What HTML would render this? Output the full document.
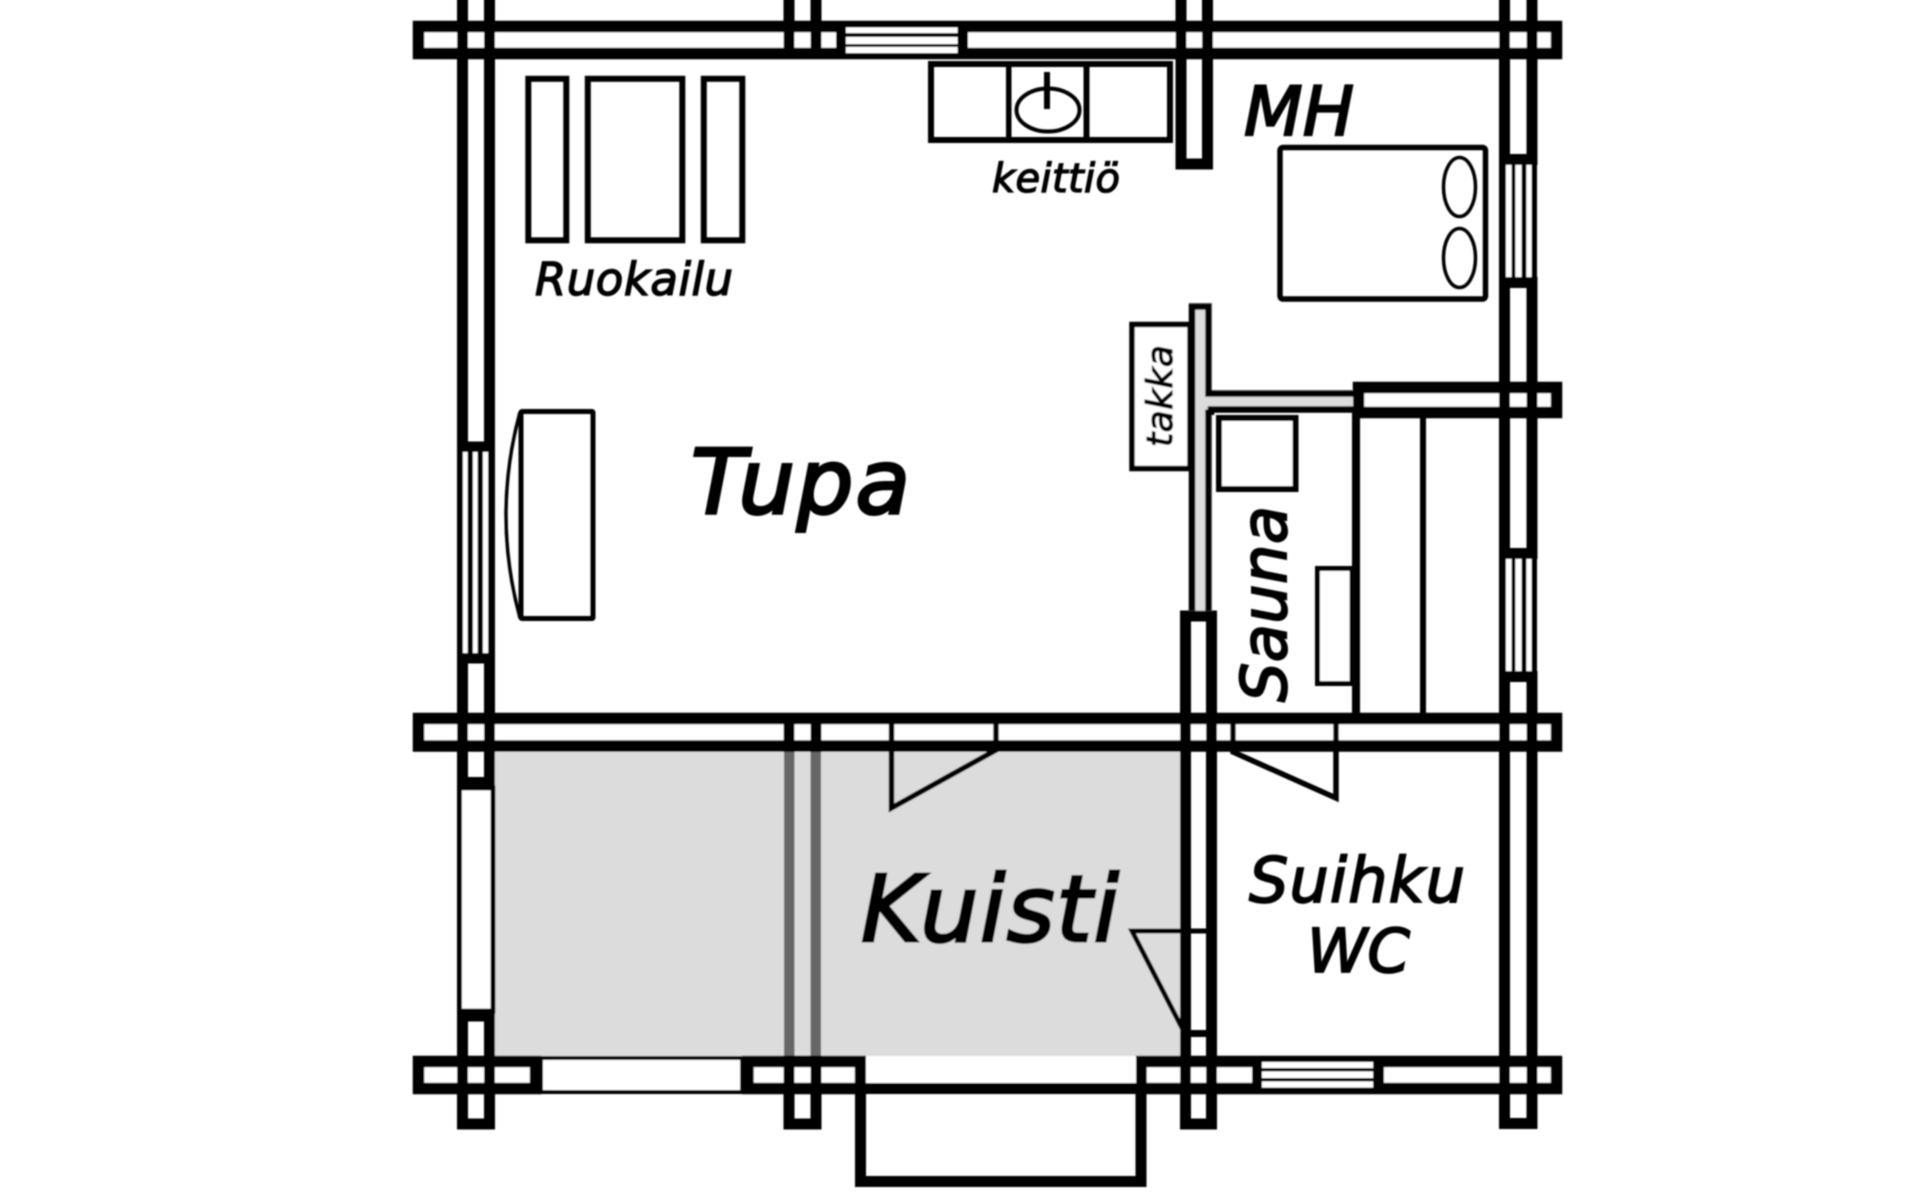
<!DOCTYPE html>
<html lang="fi">
<head>
<meta charset="utf-8">
<title>Pohjapiirros</title>
<style>
html,body{margin:0;padding:0;background:#fff;width:1920px;height:1200px;overflow:hidden}
svg{display:block}
text{font-family:"DejaVu Sans","Liberation Sans",sans-serif;font-style:oblique;fill:#000;stroke:#000}
</style>
</head>
<body>
<svg width="1920" height="1200" viewBox="0 0 1920 1200" xmlns="http://www.w3.org/2000/svg">
<defs><filter id="b" filterUnits="userSpaceOnUse" x="0" y="0" width="1920" height="1200"><feGaussianBlur stdDeviation="0.7"/></filter></defs>
<rect width="1920" height="1200" fill="#fff"/>
<g filter="url(#b)">
<!-- Kuisti floor -->
<rect x="495" y="752" width="685" height="304" fill="#dcdcdc"/>
<!-- gray porch posts -->
<rect x="784" y="752" width="10.5" height="304" fill="#666"/>
<rect x="810.5" y="752" width="10.5" height="304" fill="#666"/>

<!-- horizontal walls -->
<g fill="#fff" stroke="#000" stroke-width="11.5">
<rect x="418.5" y="26.5" width="1138" height="27"/>
<rect x="418.5" y="718.5" width="1138" height="27.5"/>
<rect x="418.5" y="1061.5" width="117" height="27"/>
<rect x="748" y="1061.5" width="112.5" height="27"/>
<rect x="1141" y="1061.5" width="415.5" height="27"/>
<rect x="1358.5" y="387.5" width="198" height="25"/>
</g>

<!-- vertical wall strokes -->
<g fill="none" stroke="#000" stroke-width="11">
<path d="M462.5-20V447H489.5V-20"/>
<path d="M462.5 658V782.5H489.5V658Z"/>
<rect x="462.5" y="1016" width="27" height="108"/>
<path d="M789-20V59M816-20V59M789 713V752M816 713V752"/>
<rect x="789" y="1061" width="27" height="63"/>
<path d="M1181-20V164H1207.5V-20"/>
<path d="M1504.5-20V159.5H1532V-20"/>
<rect x="1504.5" y="282.5" width="27.5" height="271"/>
<rect x="1504.5" y="676.5" width="27.5" height="447"/>
<rect x="1185.5" y="616" width="26" height="508"/>
</g>

<!-- vertical windows -->
<rect x="457" y="452" width="38" height="201"/>
<rect x="1499" y="165" width="38" height="112"/>
<rect x="1499" y="559" width="38" height="112"/>
<g fill="#fff">
<rect x="463" y="452" width="4.5" height="201"/>
<rect x="473" y="452" width="4.5" height="201"/>
<rect x="483" y="452" width="5" height="201"/>
<rect x="1506" y="165" width="5.5" height="112"/>
<rect x="1515.5" y="165" width="6" height="112"/>
<rect x="1526.5" y="165" width="5" height="112"/>
<rect x="1506" y="559" width="5.5" height="112"/>
<rect x="1515.5" y="559" width="6" height="112"/>
<rect x="1526.5" y="559" width="5" height="112"/>
</g>

<!-- lower left tall window -->
<rect x="459.5" y="788" width="33.5" height="223" fill="#fff" stroke="#000" stroke-width="5"/>
<rect x="457" y="777" width="38" height="11"/>
<rect x="457" y="1011" width="38" height="10"/>

<!-- horizontal windows -->
<rect x="836" y="21" width="132" height="38"/>
<g fill="#fff">
<rect x="846" y="27.5" width="111.5" height="5.5"/>
<rect x="846" y="37" width="111.5" height="7"/>
<rect x="846" y="47" width="111.5" height="6"/>
</g>
<rect x="1252" y="1056" width="132" height="38"/>
<g fill="#fff">
<rect x="1262" y="1062" width="111" height="6"/>
<rect x="1262" y="1071.5" width="111" height="6.5"/>
<rect x="1262" y="1081.5" width="111" height="6"/>
</g>
<rect x="541" y="1058" width="201" height="34" fill="#fff" stroke="#000" stroke-width="4"/>

<!-- Dining -->
<g fill="none" stroke="#000" stroke-width="6">
<rect x="528.3" y="78.8" width="38" height="161.5"/>
<rect x="587.8" y="78.8" width="94.5" height="161.5"/>
<rect x="703.8" y="78.8" width="38.5" height="161.5"/>
</g>

<!-- Kitchen -->
<rect x="931" y="64" width="239" height="76" fill="none" stroke="#000" stroke-width="6"/>
<rect x="1006" y="64" width="5.5" height="76"/>
<rect x="1083.5" y="64" width="6" height="76"/>
<ellipse cx="1048" cy="110" rx="31.5" ry="21.5" fill="none" stroke="#000" stroke-width="4"/>
<rect x="1044" y="72" width="6" height="37"/>

<!-- Bed -->
<rect x="1280" y="147.5" width="205.5" height="151.5" rx="3" fill="none" stroke="#000" stroke-width="5.5"/>
<ellipse cx="1459.5" cy="187" rx="16" ry="29.5" fill="none" stroke="#000" stroke-width="3.5"/>
<ellipse cx="1459.5" cy="258" rx="16" ry="29.5" fill="none" stroke="#000" stroke-width="3.5"/>

<!-- Sofa -->
<rect x="521" y="411.5" width="72" height="207" rx="1" fill="none" stroke="#000" stroke-width="5"/>
<path d="M520 412Q492 515 520 618" fill="none" stroke="#000" stroke-width="3.5"/>

<!-- Thin interior wall (gray core) -->
<path d="M1189 303H1212V390H1353V412H1212V610.7H1189Z" fill="#dcdcdc"/>
<path d="M1192 610.7V306.5H1208.5V393.5H1353M1353 409.5H1211V415M1208.5 409.5V610.7" fill="none" stroke="#000" stroke-width="6.5"/>

<!-- Takka -->
<rect x="1132" y="324.5" width="58" height="144" fill="#fff" stroke="#000" stroke-width="5.5"/>

<!-- Stove -->
<rect x="1219" y="418" width="76.5" height="71" fill="#fff" stroke="#000" stroke-width="6"/>

<!-- Sauna benches -->
<rect x="1352" y="407" width="8" height="306"/>
<rect x="1420" y="407" width="6" height="306"/>
<rect x="1317.5" y="568.5" width="34.5" height="115" fill="#fff" stroke="#000" stroke-width="5"/>

<!-- Doors -->
<path d="M891.5 724V808L996 750V724" fill="none" stroke="#000" stroke-width="5.5"/>
<path d="M1233 724V752L1336 798V724" fill="none" stroke="#000" stroke-width="5.5"/>
<path d="M1207 931H1132L1183 1030" fill="none" stroke="#000" stroke-width="5"/>
<rect x="1190" y="1030" width="16" height="7"/>

<!-- Entrance -->
<path d="M860.5 1094V1181.5H1141V1094" fill="none" stroke="#000" stroke-width="11"/>
<rect x="866" y="1083" width="270" height="11"/>
<rect x="866" y="1056" width="270" height="27" fill="#fff"/>

<!-- Labels -->
<text x="535" y="295" font-size="45" stroke-width="1.4" textLength="198" lengthAdjust="spacing">Ruokailu</text>
<text x="992" y="192" font-size="40" stroke-width="1.3" textLength="128" lengthAdjust="spacing">keittiö</text>
<text x="1244" y="135" font-size="68" stroke-width="2.2" textLength="110" lengthAdjust="spacing">MH</text>
<text x="691" y="513" font-size="89" stroke-width="3" textLength="219" lengthAdjust="spacing">Tupa</text>
<text x="861" y="941" font-size="92" stroke-width="3" textLength="258" lengthAdjust="spacing">Kuisti</text>
<text x="1249" y="902" font-size="62" stroke-width="1.8" textLength="216" lengthAdjust="spacing">Suihku</text>
<text x="1307" y="972" font-size="61" stroke-width="1.8" textLength="103" lengthAdjust="spacing">WC</text>
<text transform="translate(1172 447) rotate(-90)" font-size="36" stroke-width="1.2" textLength="102" lengthAdjust="spacing">takka</text>
<text transform="translate(1286 702) rotate(-90)" font-size="62" stroke-width="2" textLength="196" lengthAdjust="spacing">Sauna</text>
</g>
</svg>
</body>
</html>
